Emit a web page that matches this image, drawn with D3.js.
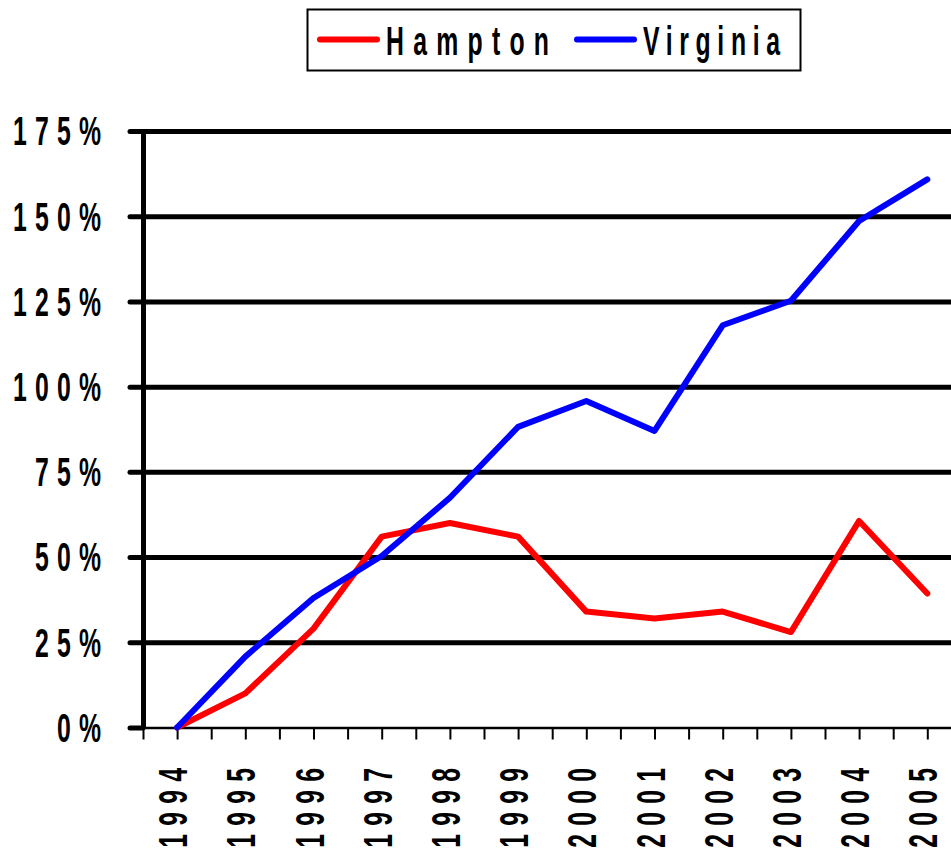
<!DOCTYPE html>
<html lang="en">

<head>
  <meta charset="UTF-8">
  <title>Hampton vs Virginia</title>
  <script src="https://cdnjs.cloudflare.com/ajax/libs/d3/7.8.5/d3.min.js"></script>
  <style>
    body { margin: 0; background: #fff; }
    svg text { font-family: "Liberation Sans", Arial, sans-serif; font-weight: bold; fill: #000; }
  </style>
</head>

<body>
  <div id="chart"></div>
  <script>
// data
var years = ["1994", "1995", "1996", "1997", "1998", "1999", "2000", "2001", "2002", "2003", "2004", "2005"];
var hampton = [0, 10, 29, 56, 60, 56, 34, 32, 34, 28, 60.6, 39.3];
var virginia = [0, 20.8, 38, 50.3, 67.4, 88.2, 95.8, 87, 118, 125.2, 148.6, 160.8];
var yTicks = [0, 25, 50, 75, 100, 125, 150, 175];
var seriesNames = ["Hampton", "Virginia"];
var seriesColors = ["#ff0000", "#0000ff"];

var svgWidth = 951;
var svgHeight = 849;

// plot area (the right side is cut off by the picture)
var plotLeft = 143;
var bandW = 68.2;
var plotRight = plotLeft + years.length * bandW;
var plotTop = 131;
var plotBottom = 727.5;

// squeezed bold font used for every text
var fontSize = 40;
var squeeze = 0.62;
var spacing = 13.2;

var svg = d3.select("#chart")
  .append("svg")
  .attr("width", svgWidth)
  .attr("height", svgHeight);

var xPoint = d3.scalePoint()
  .domain(years)
  .range([plotLeft + bandW / 2, plotRight - bandW / 2]);

// half-band ticks along the bottom
var xIndex = d3.scaleLinear()
  .domain([0, years.length])
  .range([plotLeft, plotRight]);

var yScale = d3.scaleLinear()
  .domain([0, 175])
  .range([plotBottom, plotTop]);

// horizontal gridlines
var grid = svg.append("g")
  .attr("transform", `translate(${plotLeft}, 0)`)
  .call(d3.axisLeft(yScale)
    .tickValues(yTicks.slice(1))
    .tickSize(-(svgWidth - plotLeft + 5))
    .tickFormat(""));
grid.select(".domain").remove();
grid.selectAll("line")
  .attr("stroke", "#000")
  .attr("stroke-width", 5);

// x axis with ticks every half category
var xAxis = svg.append("g")
  .attr("transform", `translate(0, ${plotBottom})`)
  .call(d3.axisBottom(xIndex)
    .tickValues(d3.range(0, years.length + 0.5, 0.5))
    .tickSizeInner(12)
    .tickSizeOuter(0)
    .tickFormat(""));
xAxis.select(".domain")
  .attr("stroke", "#000")
  .attr("stroke-width", 2.5);
xAxis.selectAll("line")
  .attr("stroke", "#000")
  .attr("stroke-width", 2);

// y axis: thick line plus short outer ticks
var yAxis = svg.append("g")
  .attr("transform", `translate(${plotLeft}, 0)`)
  .call(d3.axisLeft(yScale)
    .tickValues(yTicks)
    .tickSizeInner(13)
    .tickSizeOuter(0)
    .tickFormat(""));
yAxis.select(".domain")
  .attr("stroke", "#000")
  .attr("stroke-width", 5);
yAxis.selectAll("line")
  .attr("stroke", "#000")
  .attr("stroke-width", 5)
  .attr("stroke-linecap", "round");

// y labels
svg.append("g")
  .selectAll("text")
  .data(yTicks)
  .enter()
  .append("text")
  .attr("transform", d => `translate(${101 + spacing * squeeze}, ${yScale(d) + 14.3}) scale(${squeeze}, 1)`)
  .attr("text-anchor", "end")
  .style("font-size", fontSize + "px")
  .style("letter-spacing", spacing + "px")
  .text(d => d + "%");

// x labels, rotated
svg.append("g")
  .selectAll("text")
  .data(years)
  .enter()
  .append("text")
  .attr("transform", d => `translate(${xPoint(d) + 10}, ${768 - spacing * squeeze}) rotate(-90) scale(${squeeze}, 1)`)
  .attr("text-anchor", "end")
  .style("font-size", fontSize + "px")
  .style("letter-spacing", spacing + "px")
  .text(d => d);

// lines
var line = d3.line()
  .x((d, i) => xPoint(years[i]))
  .y(d => yScale(d));

[hampton, virginia].forEach(function(values, i) {
  svg.append("path")
    .datum(values)
    .attr("d", line)
    .attr("fill", "none")
    .attr("stroke", seriesColors[i])
    .attr("stroke-width", 6)
    .attr("stroke-linejoin", "round")
    .attr("stroke-linecap", "round");
});

// legend
var legend = svg.append("g");
legend.append("rect")
  .attr("x", 307.5)
  .attr("y", 9.5)
  .attr("width", 493)
  .attr("height", 61)
  .attr("fill", "#fff")
  .attr("stroke", "#000")
  .attr("stroke-width", 2);

var legendX = [320, 577];
var legendTextW = [163, 137];
seriesNames.forEach(function(name, i) {
  legend.append("line")
    .attr("x1", legendX[i])
    .attr("x2", legendX[i] + 57)
    .attr("y1", 39.5)
    .attr("y2", 39.5)
    .attr("stroke", seriesColors[i])
    .attr("stroke-width", 6)
    .attr("stroke-linecap", "round");
  legend.append("text")
    .attr("transform", `translate(${legendX[i] + 66}, 55) scale(${squeeze}, 1)`)
    .attr("textLength", legendTextW[i] / squeeze)
    .attr("lengthAdjust", "spacing")
    .style("font-size", fontSize + "px")
    .text(name);
});
  </script>
</body>

</html>
